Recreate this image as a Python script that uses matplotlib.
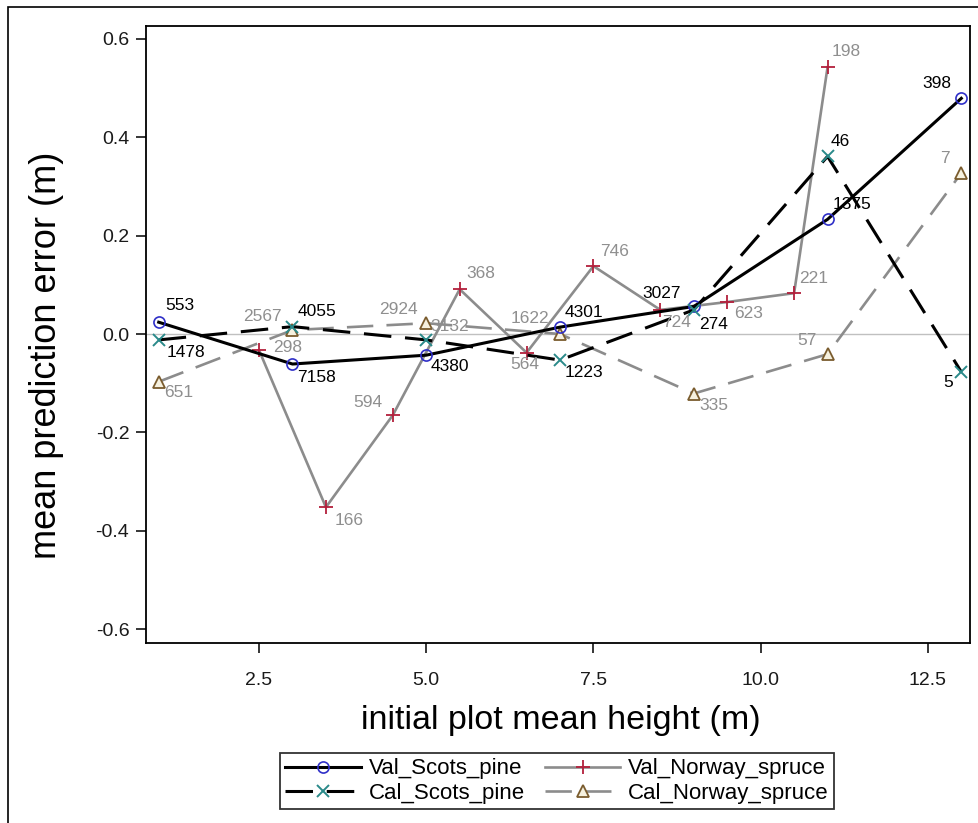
import matplotlib
matplotlib.use("Agg")
import matplotlib.pyplot as plt
from matplotlib.patches import Rectangle

# ---------------- data ----------------
vsp_x = [1, 3, 5, 7, 9, 11, 13]
vsp_y = [0.024, -0.061, -0.043, 0.014, 0.056, 0.233, 0.479]
vsp_n = ["553", "7158", "4380", "4301", "3027", "1375", "398"]

csp_x = [1, 3, 5, 7, 9, 11, 13]
csp_y = [-0.012, 0.015, -0.012, -0.053, 0.049, 0.361, -0.077]
csp_n = ["1478", "4055", "", "1223", "274", "46", "5"]

vns_x = [2.5, 3.5, 4.5, 5.5, 6.5, 7.5, 8.5, 9.5, 10.5, 11]
vns_y = [-0.033, -0.352, -0.165, 0.091, -0.038, 0.138, 0.049, 0.065, 0.083, 0.542]
vns_n = ["298", "166", "594", "368", "564", "746", "724", "623", "221", "198"]

cns_x = [1, 3, 5, 7, 9, 11, 13]
cns_y = [-0.097, 0.008, 0.022, 0.0, -0.121, -0.041, 0.327]
cns_n = ["651", "2567", "3132", "1622", "335", "57", "7"]
cns_extra = ["", "", "2924", "", "", "", ""]

series_names = ["Val_Scots_pine", "Cal_Scots_pine", "Val_Norway_spruce", "Cal_Norway_spruce"]
xticks = [2.5, 5.0, 7.5, 10.0, 12.5]
yticks = [-0.6, -0.4, -0.2, 0.0, 0.2, 0.4, 0.6]

# ---------------- label offsets (pixels, right / down) ----------------
vsp_off = [(21, -17), (24, 13), (24, 11), (24, -15), (-32, -13), (24, -15), (-24, -15)]
csp_off = [(27, 13), (25, -15), (0, 0), (24, 12), (20, 15), (13, -15), (-13, 11)]
vns_off = [(29, -3), (23, 13), (-25, -13), (21, -16), (-2, 12), (21, -15), (16, 13), (21, 11), (20, -15), (19, -16)]
cns_off = [(20, 11), (-30, -14), (23, 3), (-30, -16), (20, 12), (-21, -14), (-16, -15)]
cns_extra_off = [(0, 0), (0, 0), (-28, -14), (0, 0), (0, 0), (0, 0), (0, 0)]

W, H = 979, 823
fig = plt.figure(figsize=(W / 100, H / 100), dpi=100)
fig.patch.set_facecolor("white")

# outer frame
fig.patches.append(Rectangle((8 / W, -0.05), 1.2, 1 - 7 / H + 0.05, transform=fig.transFigure,
                             fill=False, edgecolor="black", linewidth=1.2))

ax = fig.add_axes([146 / W, 1 - 643 / H, (970 - 146) / W, (643 - 26) / H])

FONT = ["Liberation Sans", "DejaVu Sans"]
BLACK = "#000000"
GRAY = "#8c8c8c"
LBL_GRAY = "#8f8f8f"
lw_b = 2.2
lw_g = 1.9
dash = (0, (9, 4.5))

ax.axhline(0, color="#c0c0c0", linewidth=1.0, zorder=1)

ax.plot(vsp_x, vsp_y, color=BLACK, lw=lw_b, marker="o", ms=8, mfc="none", mec="#2f2fc8", mew=1.2,
        label=series_names[0], zorder=4)
ax.plot(csp_x, csp_y, color=BLACK, lw=lw_b, linestyle=dash, marker="x", ms=8.5, mec="#2a8a8a", mew=1.4,
        label=series_names[1], zorder=4)
ax.plot(vns_x, vns_y, color=GRAY, lw=lw_g, marker="+", ms=10, mec="#b3203c", mew=1.3,
        label=series_names[2], zorder=3)
ax.plot(cns_x, cns_y, color=GRAY, lw=lw_g, linestyle=(0, (10, 5)), marker="^", ms=8.5, mfc="#f6f1df",
        mec="#7a5c2e", mew=1.3, label=series_names[3], zorder=3)


def annotate(xs, ys, labels, offs, color):
    for x, y, t, (dx, dy) in zip(xs, ys, labels, offs):
        if t:
            ax.annotate(t, (x, y), xytext=(dx * 0.72, -dy * 0.72), textcoords="offset points",
                        ha="center", va="center", color=color, zorder=6, fontsize=12.5, family=FONT)


annotate(vsp_x, vsp_y, vsp_n, vsp_off, BLACK)
annotate(csp_x, csp_y, csp_n, csp_off, BLACK)
annotate(vns_x, vns_y, vns_n, vns_off, LBL_GRAY)
annotate(cns_x, cns_y, cns_n, cns_off, LBL_GRAY)
annotate(cns_x, cns_y, cns_extra, cns_extra_off, LBL_GRAY)

ax.set_xlim(0.81, 13.13)
ax.set_ylim(-0.628, 0.626)
ax.set_xticks(xticks)
ax.set_xticklabels([f"{v:.1f}" for v in xticks])
ax.set_yticks(yticks)
ax.set_yticklabels([f"{v:.1f}" for v in yticks])
ax.tick_params(direction="out", length=7, width=1.1, labelsize=14, colors="black")
ax.tick_params(axis="x", pad=14)
ax.tick_params(axis="y", pad=5)
for lab in ax.get_xticklabels() + ax.get_yticklabels():
    lab.set_family(FONT)
    lab.set_color("#1a1a1a")
for s in ax.spines.values():
    s.set_linewidth(1.3)

ax.set_xlabel("initial plot mean height (m)", fontsize=24.5, family=FONT, va="center")
ax.xaxis.set_label_coords((561 - 146) / 824, (643 - 720) / 617)
ax.set_ylabel("mean prediction error (m)", fontsize=26, family=FONT, va="center")
ax.yaxis.set_label_coords((47 - 146) / 824, (643 - 355) / 617)

leg = fig.legend(loc="center", bbox_to_anchor=(557 / W, 1 - 781 / H), ncol=2, frameon=True,
                 fancybox=False, edgecolor="black", handlelength=3.4, columnspacing=0.9,
                 borderpad=0.25, labelspacing=0.15, handletextpad=0.35,
                 prop={"family": FONT, "size": 16})
leg.get_frame().set_linewidth(1.3)

fig.savefig("out.png", dpi=100, facecolor="white")
